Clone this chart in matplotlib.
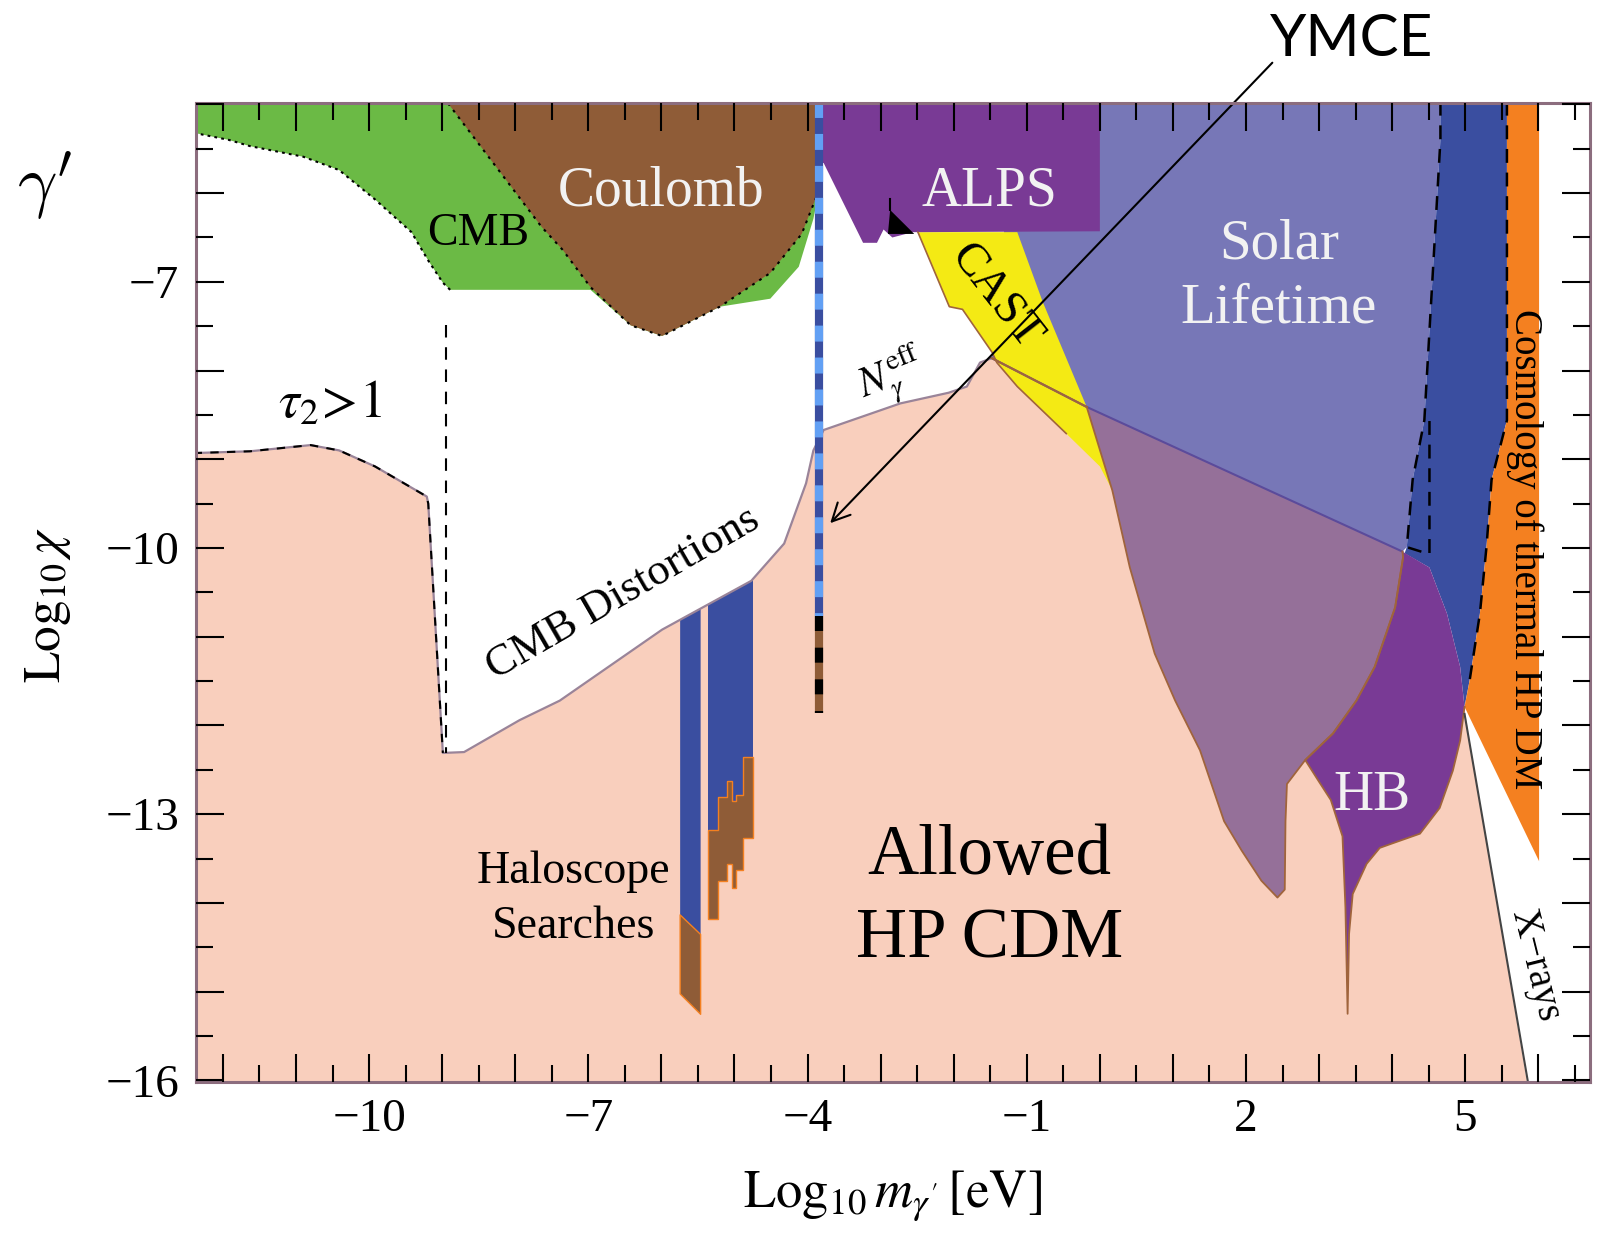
import numpy as np
import matplotlib
matplotlib.use("Agg")
import matplotlib.pyplot as plt
from matplotlib.patches import Polygon
from matplotlib.ticker import MultipleLocator

plt.rcParams['font.family'] = ['Liberation Serif', 'DejaVu Serif']
plt.rcParams['mathtext.fontset'] = 'stix'
plt.rcParams['lines.scale_dashes'] = False

# region outlines in (log10 m [eV], log10 chi)
allowed_x = [-12.4, -12.4, -11.63, -10.80, -10.41, -9.92, -9.21, -9.19, -8.99, -8.70, -7.94, -7.39,
             -5.99, -4.77, -4.32, -4.02, -3.92, -3.78, -2.73, -2.07, -1.82, -1.64, -1.48, -0.18,
             4.14, 4.99, 5.86]
allowed_y = [-16.1, -8.93, -8.91, -8.84, -8.90, -9.08, -9.42, -9.50, -12.31, -12.30, -11.94, -11.72,
             -10.92, -10.37, -9.95, -9.27, -8.90, -8.67, -8.37, -8.25, -8.18, -7.91, -7.86, -8.41,
             -10.04, -11.82, -16.1]

cmb_x = [-12.4, -3.84, -3.84, -3.92, -4.12, -4.51, -5.20, -5.99, -6.42, -6.97, -8.89, -8.99, -9.19,
         -9.42, -9.92, -10.41, -10.90, -11.63, -11.92, -12.4]
cmb_y = [-4.9, -4.9, -5.96, -6.29, -6.83, -7.19, -7.28, -7.61, -7.49, -7.09, -7.09, -7.01, -6.76,
         -6.44, -6.07, -5.74, -5.59, -5.47, -5.40, -5.32]

coulomb_x = [-9.0, -3.84, -3.84, -4.08, -4.51, -5.20, -5.99, -6.42, -6.97, -7.35, -7.64]
coulomb_y = [-4.9, -4.9, -5.96, -6.46, -6.90, -7.28, -7.61, -7.49, -7.06, -6.64, -6.38]

alps_x = [-3.84, 0.0, 0.0, -2.49, -2.56, -2.84, -2.96, -3.05, -3.24, -3.78, -3.84]
alps_y = [-4.9, -4.9, -6.43, -6.44, -6.44, -6.50, -6.41, -6.56, -6.56, -5.66, -5.66]
alps_mark_x = [-2.87, -2.90, -2.54]
alps_mark_y = [-6.19, -6.46, -6.46]

cast_x = [-2.49, -1.13, -0.78, -0.18, 0.17, 0.00, -0.46, -1.13, -1.41, -1.47, -1.88, -2.06]
cast_y = [-6.44, -6.44, -7.23, -8.41, -9.35, -9.08, -8.71, -8.18, -7.91, -7.80, -7.31, -7.28]

solar_x = [-1.13, 4.66, 4.66, 4.44, 4.28, 4.20, 4.14, -0.18, -1.48]
solar_y = [-4.9, -4.9, -5.40, -8.56, -9.23, -9.99, -10.04, -8.41, -7.86]

dblue_x = [4.66, 5.57, 5.57, 5.36, 5.29, 5.20, 5.06, 4.99, 4.93, 4.75, 4.51, 4.17, 4.20, 4.28, 4.44, 4.66]
dblue_y = [-4.9, -4.9, -8.56, -9.23, -9.99, -10.74, -11.49, -11.79, -11.34, -10.74, -10.22, -10.06,
           -9.99, -9.23, -8.56, -5.40]

thermal_x = [5.57, 6.01, 6.01, 4.99, 5.06, 5.20, 5.29, 5.36, 5.57]
thermal_y = [-4.9, -4.9, -13.53, -11.79, -11.49, -10.74, -9.99, -9.23, -8.56]

mauve_x = [-0.18, 4.14, 4.15, 4.04, 3.76, 3.51, 3.19, 2.81, 2.56, 2.54, 2.53, 2.43, 2.21, 1.94,
           1.70, 1.37, 1.03, 0.75, 0.41, 0.17]
mauve_y = [-8.41, -10.04, -10.10, -10.67, -11.34, -11.72, -12.09, -12.39, -12.66, -13.08, -13.85,
           -13.94, -13.75, -13.41, -13.08, -12.28, -11.72, -11.19, -10.22, -9.35]

hb_x = [4.14, 4.51, 4.75, 4.93, 4.99, 4.93, 4.83, 4.65, 4.38, 4.00, 3.83, 3.65, 3.46, 3.41, 3.39,
        3.36, 3.32, 3.16, 2.98, 2.81, 3.19, 3.51, 3.76, 4.04, 4.15]
hb_y = [-10.04, -10.22, -10.74, -11.34, -11.79, -12.17, -12.51, -12.93, -13.22, -13.33, -13.38,
        -13.56, -13.90, -14.35, -15.25, -14.05, -13.25, -12.84, -12.61, -12.39, -12.09, -11.72,
        -11.34, -10.67, -10.10]

xray_x = [4.99, 5.86]
xray_y = [-11.87, -16.03]

halo1_x = [-5.75, -5.47]
halo1_blue_bottom = [-14.13, -14.35]
halo1_brown_bottom = [-15.02, -15.25]
halo2_edges = [-5.36, -5.23, -5.10, -5.04, -4.98, -4.88, -4.74]
halo2_blue_bottom = [-13.18, -12.81, -12.63, -12.85, -12.78, -12.36]
halo2_brown_bottom = [-14.18, -13.75, -13.56, -13.83, -13.63, -13.27]

ymce_x = -3.84
ymce_top, ymce_split, ymce_bottom = -4.97, -10.77, -11.86

tau_dash_x = -8.95
tau_dash_y = [-7.49, -12.31]
solar_edge_x = [4.66, 4.66, 4.44, 4.28, 4.20, 4.51, 4.51]
solar_edge_y = [-4.97, -5.40, -8.56, -9.23, -9.99, -10.07, -8.50]
dblue_edge_x = [5.57, 5.57, 5.36, 5.29, 5.20, 5.06]
dblue_edge_y = [-4.97, -8.56, -9.23, -9.99, -10.74, -11.49]

x_labelled = [-10, -7, -4, -1, 2, 5]
y_labelled = [-7, -10, -13, -16]

c_allowed = '#F9CFBD'
c_green = '#6BBA45'
c_brown = '#8F5C37'
c_purple = '#793A95'
c_yellow = '#F4EA14'
c_solar = '#7777B7'
c_dblue = '#3A4EA0'
c_orange = '#F48020'
c_mauve = '#957099'
c_lblue = '#62A0F4'
c_edge = '#A0643C'
c_white = '#F2F2F2'

fig = plt.figure(figsize=(16.08, 12.35), dpi=100)
ax = fig.add_axes([0.1218, 0.1238, 0.8667, 0.7931])
ax.set_facecolor('white')


def region(xs, ys, color, z):
    p = Polygon(np.column_stack([xs, ys]), closed=True, facecolor=color,
                edgecolor='none', zorder=z)
    ax.add_patch(p)
    return p


allowed = region(allowed_x, allowed_y, c_allowed, 1)
region(cmb_x, cmb_y, c_green, 2)
region(coulomb_x, coulomb_y, c_brown, 3)
region(solar_x, solar_y, c_solar, 2)
region(mauve_x, mauve_y, c_mauve, 3)
region(dblue_x, dblue_y, c_dblue, 3)
region(thermal_x, thermal_y, c_orange, 3)
region(hb_x, hb_y, c_purple, 4)
region(cast_x, cast_y, c_yellow, 4)
region(alps_x, alps_y, c_purple, 4)
region(alps_mark_x, alps_mark_y, 'black', 4.5)
ax.plot([alps_mark_x[0]] * 2, [alps_mark_y[0], alps_mark_y[0] + 0.12], color='k', lw=1.5, zorder=4.5)

# haloscope searches, clipped to the allowed region
top = np.full(2, -9.0)
h = ax.fill_between(halo1_x, top, halo1_blue_bottom, color=c_dblue, lw=0, zorder=2)
h.set_clip_path(allowed)
h = ax.fill_between(halo1_x, halo1_blue_bottom, halo1_brown_bottom, facecolor=c_brown,
                    edgecolor=c_orange, lw=1, zorder=2)
h.set_clip_path(allowed)
h = ax.stairs(halo2_blue_bottom, halo2_edges, baseline=np.full(6, -9.0), fill=True,
              color=c_dblue, zorder=2)
h.set_clip_path(allowed)
ax.stairs(halo2_brown_bottom, halo2_edges, baseline=halo2_blue_bottom, fill=True,
          facecolor=c_brown, edgecolor=c_orange, lw=1, zorder=2)

# outlines
ax.plot(allowed_x[1:23], allowed_y[1:23], color='#9A8499', lw=1.6, zorder=5)
ax.plot(allowed_x[1:9], allowed_y[1:9], color='k', lw=1.5, dashes=(6, 6), zorder=5)
ax.plot([tau_dash_x, tau_dash_x], tau_dash_y, color='k', lw=1.5, dashes=(9, 7), zorder=5)
ax.plot(cmb_x[10:], cmb_y[10:], color='k', lw=1.5, dashes=(2, 3), zorder=5)
ax.plot(coulomb_x[2:] + [coulomb_x[0]], coulomb_y[2:] + [coulomb_y[0]], color='k', lw=1.5,
        dashes=(2, 4), zorder=5)
ax.plot(solar_x[6:], solar_y[6:], color='#5B4B9B', lw=1.5, zorder=5)
ax.plot(solar_x[7:], solar_y[7:], color=c_edge, lw=1.5, zorder=5)
ax.plot(cast_x[6:] + [cast_x[0]], cast_y[6:] + [cast_y[0]], color=c_edge, lw=1.2, zorder=5)
ax.plot(mauve_x[1:] + [mauve_x[0]], mauve_y[1:] + [mauve_y[0]], color=c_edge, lw=1.3, zorder=5)
ax.plot(hb_x[4:], hb_y[4:], color=c_edge, lw=1.3, zorder=5)
ax.plot(xray_x, xray_y, color='#444444', lw=1.5, zorder=5)
ax.plot(solar_edge_x, solar_edge_y, color='k', lw=1.8, dashes=(10, 7), zorder=5)
ax.plot(dblue_edge_x, dblue_edge_y, color='k', lw=1.8, dashes=(10, 7), zorder=5)

# YMCE exclusion line
ax.plot([ymce_x, ymce_x], [ymce_top, ymce_split], color=c_dblue, lw=5.9,
        solid_capstyle='butt', zorder=7)
ax.plot([ymce_x, ymce_x], [ymce_top, ymce_split], color=c_lblue, lw=5.9,
        dashes=(11.5, 11.5), dash_capstyle='butt', zorder=7.1)
ax.plot([ymce_x, ymce_x], [ymce_split, ymce_bottom], color=c_brown, lw=5.9,
        solid_capstyle='butt', zorder=7)
ax.plot([ymce_x, ymce_x], [ymce_split, ymce_bottom], color='k', lw=5.9,
        dashes=(10.8, 12), dash_capstyle='butt', zorder=7.1)

# labels
ax.text(-8.50, -6.46, 'CMB', fontsize=33, ha='center', va='center', zorder=10)
ax.text(-6.00, -5.98, 'Coulomb', fontsize=40, color=c_white, ha='center', va='center', zorder=10)
ax.text(-1.51, -5.98, 'ALPS', fontsize=40, color=c_white, ha='center', va='center', zorder=10)
ax.text(-1.44, -7.17, 'CAST', fontsize=34, rotation=-52, ha='center', va='center', zorder=10)
ax.text(2.45, -6.94, 'Solar\nLifetime', fontsize=41, color=c_white, ha='center', va='center',
        linespacing=1.32, zorder=10)
ax.text(-2.84, -8.08, r'$N_\gamma^{\rm eff}$', fontsize=30, rotation=22, ha='center',
        va='center', zorder=10)
ax.text(-10.53, -8.39, r'$\tau_2\!>\!1$', fontsize=38, ha='center', va='center', zorder=10)
ax.text(-6.52, -10.51, 'CMB Distortions', fontsize=32, rotation=30, ha='center', va='center',
        zorder=10)
ax.text(-7.20, -13.96, 'Haloscope\nSearches', fontsize=33, ha='center', va='center',
        linespacing=1.4, zorder=10)
ax.text(-1.51, -13.95, 'Allowed\nHP CDM', fontsize=51, ha='center', va='center',
        linespacing=1.38, zorder=10)
ax.text(3.72, -12.79, 'HB', fontsize=40, color=c_white, ha='center', va='center', zorder=10)
ax.text(5.81, -10.01, 'Cosmology of thermal HP DM', fontsize=28, rotation=-90, ha='center',
        va='center', zorder=10)
ax.text(5.95, -14.70, 'X\u2212rays', fontsize=28, rotation=-76, ha='center', va='center',
        zorder=10)

ax.annotate('', xy=(-3.69, -9.72), xytext=(2.36, -4.53), annotation_clip=False,
            arrowprops=dict(arrowstyle='->', lw=1.5, color='black', mutation_scale=32,
                            shrinkA=0, shrinkB=0), zorder=11)
fig.text(0.8406, 0.968, 'YMCE', fontsize=42, family='Lato', ha='center', va='center')
fig.text(0.045, 0.850, r"$\gamma'$", fontsize=50, math_fontfamily='cm', ha='right',
         va='center')

# axes
ax.set_xlim(-12.37, 6.70)
ax.set_ylim(-16.02, -4.98)
xt = np.arange(-12, 7)
ax.set_xticks(xt)
ax.set_xticklabels([f'{v}'.replace('-', '\u2212') if v in x_labelled else '' for v in xt])
yt = np.arange(-16, -4)
ax.set_yticks(yt)
ax.set_yticklabels([f'{v}'.replace('-', '\u2212') if v in y_labelled else '' for v in yt])
ax.xaxis.set_minor_locator(MultipleLocator(0.5))
ax.yaxis.set_minor_locator(MultipleLocator(0.5))
ax.tick_params(which='both', direction='in', top=True, right=True, width=1.5, color='k')
ax.tick_params(which='major', length=20, labelsize=34, pad=12)
ax.tick_params(which='minor', length=12)
for s in ax.spines.values():
    s.set_color('#8C6D7E')
    s.set_linewidth(2.2)
    s.set_zorder(30)
ax.xaxis.set_zorder(30)
ax.yaxis.set_zorder(30)

fig.text(0.555, 0.032, r'$\mathrm{Log}_{10}\,m_{\gamma^\prime}\,[\mathrm{eV}]$', fontsize=38,
         ha='center', va='center')
fig.text(0.030, 0.51, r'$\mathrm{Log}_{10}\,\chi$', fontsize=37, rotation=90,
         ha='center', va='center')

fig.savefig('out.png', dpi=100)
